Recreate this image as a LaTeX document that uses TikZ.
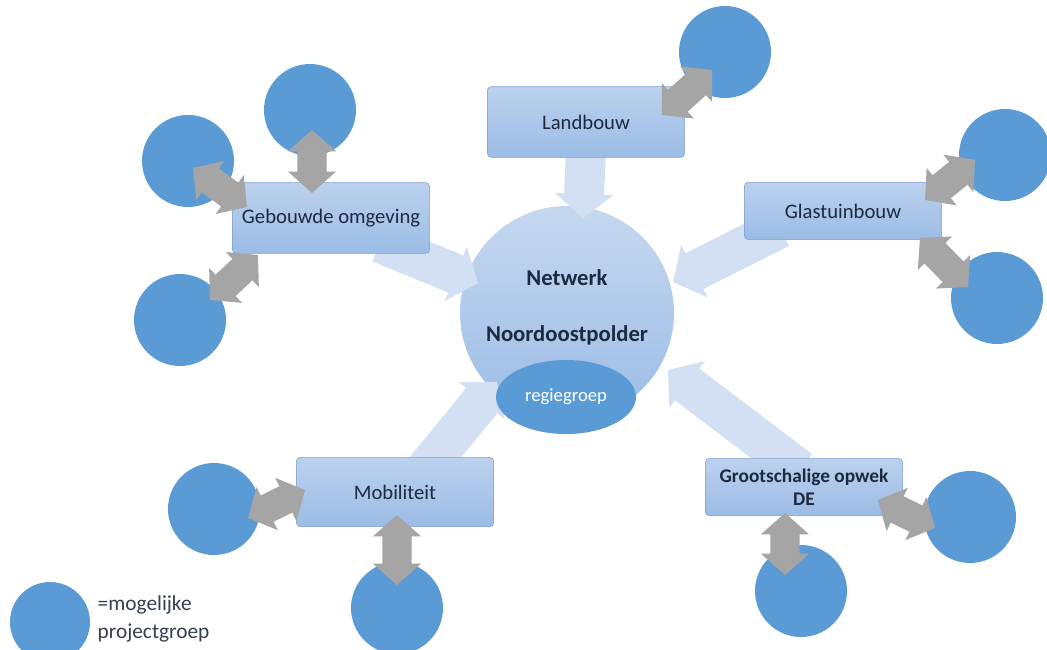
\documentclass[tikz,border=0pt]{standalone}
\usepackage{fontspec}
\setmainfont{Carlito}
\usetikzlibrary{
  calc,
  shapes.geometric
  }

\definecolor{groepblauw}{HTML}{5B9BD5}
\definecolor{sectorboven}{HTML}{BCD1EE}
\definecolor{sectoronder}{HTML}{9BBCE5}
\definecolor{sectorrand}{HTML}{7F9DC8}
\definecolor{pijllicht}{HTML}{D3E0F3}
\definecolor{pijlgrijs}{HTML}{A5A5A5}
\definecolor{tekstkleur}{HTML}{1C2A40}

% brede pijl van #1 naar #2
\newcommand\blokpijl[2]{%
  \fill[lichtpijl] let \p1=(#1), \p2=(#2), \n1={atan2(\y2-(\y1),\x2-(\x1))} in
    ($(\p1)+(\n1+90:15pt)$)
    -- ($(\p2)+(\n1+180:18pt)+(\n1+90:15pt)$)
    -- ($(\p2)+(\n1+180:18pt)+(\n1+90:22pt)$)
    -- (\p2)
    -- ($(\p2)+(\n1+180:18pt)+(\n1-90:22pt)$)
    -- ($(\p2)+(\n1+180:18pt)+(\n1-90:15pt)$)
    -- ($(\p1)+(\n1-90:15pt)$) -- cycle;}

% dubbele pijl tussen #1 en #2
\newcommand\dubbelpijl[2]{%
  \fill[grijspijl] let \p1=(#1), \p2=(#2), \n1={atan2(\y2-(\y1),\x2-(\x1))} in
    (\p1)
    -- ($(\p1)+(\n1:16pt)+(\n1+90:18pt)$)
    -- ($(\p1)+(\n1:16pt)+(\n1+90:11pt)$)
    -- ($(\p2)+(\n1+180:16pt)+(\n1+90:11pt)$)
    -- ($(\p2)+(\n1+180:16pt)+(\n1+90:18pt)$)
    -- (\p2)
    -- ($(\p2)+(\n1+180:16pt)+(\n1-90:18pt)$)
    -- ($(\p2)+(\n1+180:16pt)+(\n1-90:11pt)$)
    -- ($(\p1)+(\n1:16pt)+(\n1-90:11pt)$)
    -- ($(\p1)+(\n1:16pt)+(\n1-90:18pt)$)
    -- cycle;}

\begin{document}
\begin{tikzpicture}[x=0.75pt, y=-0.75pt,
  groep/.style={circle, fill=groepblauw, minimum size=69pt, inner sep=0pt},
  sector/.style={rectangle, rounded corners=3pt, draw=sectorrand,
    top color=sectorboven, bottom color=sectoronder,
    minimum width=148pt, inner sep=2pt, align=center,
    text=tekstkleur, font=\fontsize{15.5}{17}\selectfont},
  lichtpijl/.style={fill=pijllicht},
  grijspijl/.style={fill=pijlgrijs}]
  \useasboundingbox (0,0) rectangle (1047,650);

  % netwerk in het midden
  \node[circle, minimum size=160.5pt, inner sep=0pt,
    top color=sectorboven!85, bottom color=sectoronder] (netwerk) at (567,313) {};

  % eindpunten van de pijlen
  \coordinate (landvan) at (586,150);  \coordinate (landnaar) at (583,218);
  \coordinate (gebvan) at (380,243);   \coordinate (gebnaar) at (478,283);
  \coordinate (glasvan) at (780,228);  \coordinate (glasnaar) at (673,282);
  \coordinate (mobvan) at (425,470);   \coordinate (mobnaar) at (497,382);
  \coordinate (grootvan) at (800,470); \coordinate (grootnaar) at (668,370);

  \blokpijl{landvan}{landnaar}
  \blokpijl{gebvan}{gebnaar}
  \blokpijl{glasvan}{glasnaar}
  \blokpijl{mobvan}{mobnaar}
  \blokpijl{grootvan}{grootnaar}

  \node[text=tekstkleur, align=center, font=\bfseries\fontsize{17}{42}\selectfont]
    (netwerktekst) at (567,307) {Netwerk\\Noordoostpolder};
  \node[ellipse, fill=groepblauw, minimum width=105pt, minimum height=55.5pt,
    inner sep=0pt, text=white, font=\fontsize{14}{16}\selectfont]
    (regie) at (566,397) {regiegroep};

  % sectoren
  \node[sector, minimum height=53pt] (land) at (586,122) {Landbouw};
  \node[sector, minimum height=53pt] (geb) at (331,218) {Gebouwde omgeving};
  \node[sector, minimum height=43pt] (glas) at (843,211) {Glastuinbouw};
  \node[sector, minimum height=52pt] (mob) at (395,492) {Mobiliteit};
  \node[sector, minimum height=43pt, font=\bfseries\fontsize{14.5}{17}\selectfont]
    (groot) at (804,487) {Grootschalige opwek\\DE};

  % projectgroepen
  \node[groep] (gebboven) at (310,110) {};
  \node[groep] (geblinks) at (188,161) {};
  \node[groep] (gebonder) at (180,320) {};
  \node[groep] (landgroep) at (725,52) {};
  \node[groep] (glasboven) at (1005,155) {};
  \node[groep] (glasonder) at (997,298) {};
  \node[groep] (moblinks) at (214,509) {};
  \node[groep] (mobonder) at (397,608) {};
  \node[groep] (grootonder) at (801,591) {};
  \node[groep] (grootrechts) at (970,517) {};

  \coordinate (a1) at (312,130);  \coordinate (b1) at (312,193);
  \coordinate (a2) at (193,168);  \coordinate (b2) at (247,207);
  \coordinate (a3) at (210,300);  \coordinate (b3) at (258,255);
  \coordinate (a4) at (712,70);   \coordinate (b4) at (662,115);
  \coordinate (a5) at (975,160);  \coordinate (b5) at (925,200);
  \coordinate (a6) at (968,287);  \coordinate (b6) at (920,238);
  \coordinate (a7) at (248,518);  \coordinate (b7) at (305,490);
  \coordinate (a8) at (397,585);  \coordinate (b8) at (397,515);
  \coordinate (a9) at (785,575);  \coordinate (b9) at (785,513);
  \coordinate (a10) at (935,528); \coordinate (b10) at (878,500);

  \foreach \i in {1,...,10}
    {\dubbelpijl{a\i}{b\i}}

  % legenda
  \node[groep, minimum size=60pt] (legenda) at (50,622) {};
  \node[anchor=west, align=left, text=tekstkleur!90,
    font=\fontsize{16}{21}\selectfont] (legendatekst) at (93,619)
    {=mogelijke\\projectgroep};
\end{tikzpicture}
\end{document}
